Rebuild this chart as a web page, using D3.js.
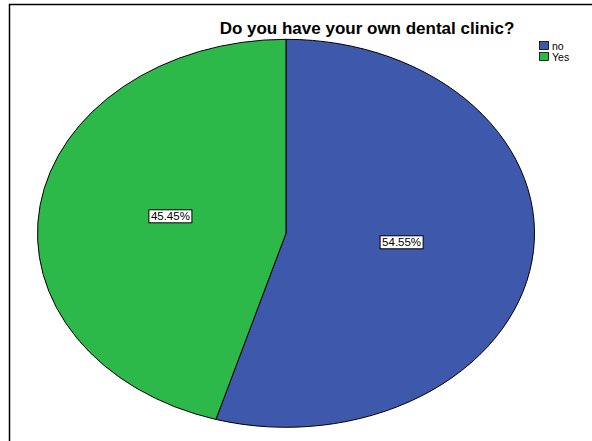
<!DOCTYPE html>
<html>
<head>
<meta charset="utf-8">
<script src="https://cdn.jsdelivr.net/npm/d3@7"></script>
<style>
  html, body { margin: 0; padding: 0; background: #fff; }
  svg { display: block; }
</style>
</head>
<body>
<svg id="chart" width="592" height="441"></svg>
<script>
const categories = ["no", "Yes"];
const values = [54.55, 45.45];
const colors = ["#3e58ac", "#2db84a"];
const title = "Do you have your own dental clinic?";

const svg = d3.select("#chart");
const W = 592, H = 441;

// frame
svg.append("path")
  .attr("d", `M9.5,${H} L9.5,4.5 L${W},4.5`)
  .attr("fill", "none").attr("stroke", "#000").attr("stroke-width", 1.5);

// title
svg.append("text")
  .attr("x", 367).attr("y", 34)
  .attr("text-anchor", "middle")
  .attr("font-family", "Liberation Sans, Arial, sans-serif")
  .attr("font-weight", "bold")
  .attr("font-size", "17px")
  .attr("fill", "#000")
  .text(title);

// pie (ellipse)
const cx = 286, cy = 233.3, rx = 248.5, ry = 194;
const data = categories.map((c, i) => ({ cat: c, value: values[i], color: colors[i] }));
const pie = d3.pie().sort(null).value(d => d.value);
const arcs = pie(data);
const arc = d3.arc().innerRadius(0).outerRadius(rx);

const g = svg.append("g")
  .attr("transform", `translate(${cx},${cy}) scale(1,${ry / rx})`);

g.selectAll("path.slice")
  .data(arcs)
  .enter().append("path")
  .attr("class", "slice")
  .attr("d", arc)
  .attr("fill", d => d.data.color)
  .attr("stroke", "#000")
  .attr("stroke-width", 1)
  .attr("vector-effect", "non-scaling-stroke");

// labels
const labelArc = d3.arc().innerRadius(rx * 0.47).outerRadius(rx * 0.47);
const fmt = v => v.toFixed(2) + "%";
const lg = svg.append("g");
arcs.forEach(d => {
  const [lx, ly] = labelArc.centroid(d);
  const x = cx + lx, y = cy + ly * ry / rx - 4;
  const t = lg.append("text")
    .attr("x", x).attr("y", y + 4)
    .attr("text-anchor", "middle")
    .attr("font-family", "Liberation Sans, Arial, sans-serif")
    .attr("font-size", "11.5px")
    .attr("fill", "#000")
    .text(fmt(d.data.value));
  const bb = t.node().getBBox();
  lg.insert("rect", () => t.node())
    .attr("x", bb.x - 2).attr("y", bb.y - 0.5)
    .attr("width", bb.width + 4).attr("height", bb.height + 1)
    .attr("fill", "#fff").attr("stroke", "#000").attr("stroke-width", 1);
});

// legend
const leg = svg.append("g").attr("transform", "translate(539,41)");
categories.forEach((c, i) => {
  const row = leg.append("g").attr("transform", `translate(0,${i * 11})`);
  row.append("rect").attr("x", 0.5).attr("y", 0.5).attr("width", 9).attr("height", 8)
    .attr("fill", colors[i]).attr("stroke", "#000").attr("stroke-width", 0.8);
  row.append("text").attr("x", 13).attr("y", 8.5)
    .attr("font-family", "Liberation Sans, Arial, sans-serif")
    .attr("font-size", "10.5px").attr("fill", "#000").text(c);
});
</script>
</body>
</html>
